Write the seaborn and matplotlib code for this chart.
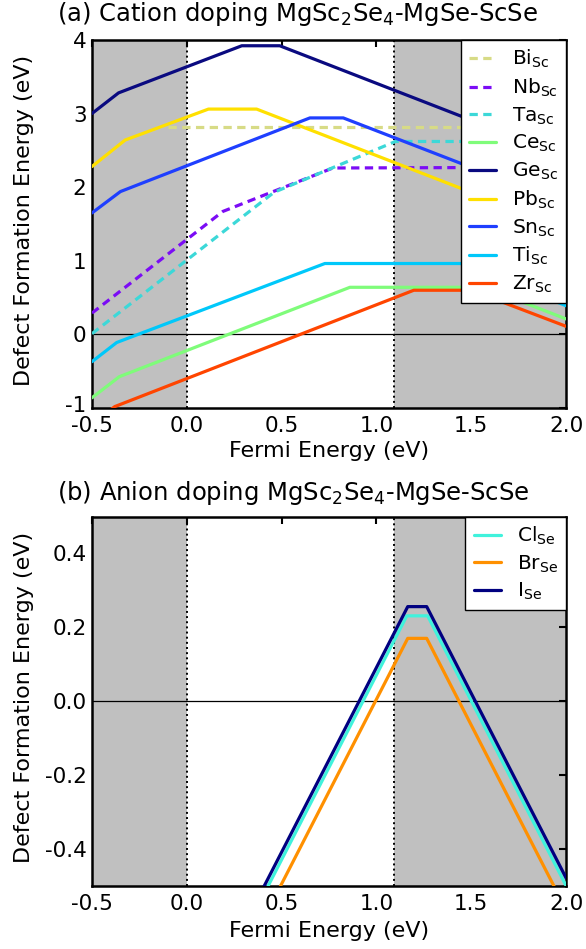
import matplotlib
matplotlib.use("Agg")
import matplotlib.pyplot as plt
import numpy as np
import pandas as pd
import seaborn as sns
from matplotlib.ticker import FixedLocator, FormatStrFormatter
from matplotlib.transforms import offset_copy

# (a) cation dopants: vertices of each formation-energy curve (Fermi level, eV)
bi_x = [-0.10, 2.0]
bi_y = [2.82, 2.82]
nb_x = [-0.5, 0.19, 0.77, 2.0]
nb_y = [0.29, 1.67, 2.26, 2.27]
ta_x = [-0.5, 0.46, 1.10, 2.0]
ta_y = [0.01, 1.93, 2.62, 2.62]
ce_x = [-0.5, -0.356, 0.86, 1.57, 2.0]
ce_y = [-0.86, -0.574, 0.64, 0.64, 0.21]
ge_x = [-0.5, -0.36, 0.29, 0.49, 2.0]
ge_y = [3.00, 3.28, 3.92, 3.92, 2.41]
pb_x = [-0.5, -0.325, 0.114, 0.368, 2.0]
pb_y = [2.28, 2.64, 3.06, 3.06, 1.43]
sn_x = [-0.5, -0.35, 0.649, 0.825, 2.0]
sn_y = [1.65, 1.94, 2.94, 2.94, 1.77]
ti_x = [-0.5, -0.37, 0.728, 1.444, 2.0]
ti_y = [-0.37, -0.11, 0.963, 0.963, 0.39]
zr_x = [-0.5, -0.38, 1.197, 1.50, 2.0]
zr_y = [-1.22, -0.98, 0.60, 0.60, 0.11]

# (b) anion dopants
cl_x = [-0.5, 1.16, 1.27, 2.0]
cl_y = [-1.43, 0.231, 0.231, -0.50]
br_x = [-0.5, 1.165, 1.265, 2.0]
br_y = [-1.495, 0.170, 0.170, -0.565]
i_x = [-0.5, 1.165, 1.265, 2.0]
i_y = [-1.409, 0.256, 0.256, -0.479]

vbm = 0.0
cbm = 1.09

sns.set_style("white")
plt.rcParams['font.family'] = ['DejaVu Sans']
plt.rcParams['mathtext.fontset'] = 'dejavusans'
plt.rcParams['axes.unicode_minus'] = False
plt.rcParams['text.color'] = 'black'
plt.rcParams['xtick.color'] = 'black'
plt.rcParams['ytick.color'] = 'black'
plt.rcParams['axes.labelcolor'] = 'black'

cation = [
    ('Bi', bi_x, bi_y, '#d7db86', True),
    ('Nb', nb_x, nb_y, '#7b0cf5', True),
    ('Ta', ta_x, ta_y, '#3cd8d8', True),
    ('Ce', ce_x, ce_y, '#7ffc7a', False),
    ('Ge', ge_x, ge_y, '#0a0a80', False),
    ('Pb', pb_x, pb_y, '#ffe000', False),
    ('Sn', sn_x, sn_y, '#1f3fff', False),
    ('Ti', ti_x, ti_y, '#00c8fa', False),
    ('Zr', zr_x, zr_y, '#ff4500', False),
]
anion = [
    ('Cl', cl_x, cl_y, '#40f2dc'),
    ('Br', br_x, br_y, '#ff9000'),
    ('I', i_x, i_y, '#000080'),
]

fig = plt.figure(figsize=(5.86, 9.49), dpi=100)
ax1 = fig.add_axes([0.157, 0.570, 0.809, 0.388])
ax2 = fig.add_axes([0.157, 0.0667, 0.809, 0.389])


def decorate(ax, ylim):
    ax.axvspan(-0.5, vbm, color='#c0c0c0', lw=0, zorder=0)
    ax.axvspan(cbm, 2.0, color='#c0c0c0', lw=0, zorder=0)
    ax.axvline(vbm, color='black', ls=':', lw=1.4, zorder=1)
    ax.axvline(cbm, color='black', ls=':', lw=1.4, zorder=1)
    ax.axhline(0, color='black', lw=0.9, zorder=1)
    ax.set_xlim(-0.5, 2.0)
    ax.set_ylim(*ylim)
    ax.xaxis.set_major_locator(FixedLocator([-0.5, 0.0, 0.5, 1.0, 1.5, 2.0]))
    ax.xaxis.set_major_formatter(FormatStrFormatter('%.1f'))
    ax.tick_params(direction='in', top=True, right=True, length=5, width=1.5,
                   labelsize=15.5, colors='black')
    ax.tick_params(axis='x', pad=6)
    ax.tick_params(axis='y', pad=4)
    for s in ax.spines.values():
        s.set_linewidth(1.8)
        s.set_color('black')
    ax.set_xlabel('')
    ax.set_ylabel('')


for name, xs, ys, col, dashed in cation:
    kw = dict(linestyle=(0, (2.6, 1.7))) if dashed else {}
    df = pd.DataFrame({'x': xs, 'y': ys})
    sns.lineplot(data=df, x='x', y='y', ax=ax1, color=col, lw=2.3, sort=False,
                 estimator=None, label=name + r'$_{\rm Sc}$', zorder=3, **kw)
decorate(ax1, (-1.0, 4.0))
ax1.yaxis.set_major_locator(FixedLocator([-1, 0, 1, 2, 3, 4]))
ax1.yaxis.set_major_formatter(FormatStrFormatter('%d'))

for name, xs, ys, col in anion:
    df = pd.DataFrame({'x': xs, 'y': ys})
    sns.lineplot(data=df, x='x', y='y', ax=ax2, color=col, lw=2.3, sort=False,
                 estimator=None, label=name + r'$_{\rm Se}$', zorder=3)
decorate(ax2, (-0.5, 0.5))
ax2.yaxis.set_major_locator(FixedLocator([-0.4, -0.2, 0.0, 0.2, 0.4]))
ax2.yaxis.set_major_formatter(FormatStrFormatter('%.1f'))

for ax in (ax1, ax2):
    leg = ax.legend(loc='upper right', fontsize=14.5, handlelength=1.35,
                    handletextpad=0.8, labelspacing=0.32, borderpad=0.4,
                    borderaxespad=0.0, fancybox=False, framealpha=1.0)
    leg.get_frame().set_edgecolor('black')
    leg.get_frame().set_linewidth(1.0)

# the lowest label of panel (a) sits a little above its tick, as in the original
fig.canvas.draw()
lab = ax1.yaxis.get_major_ticks()[0].label1
lab.set_transform(offset_copy(lab.get_transform(), fig=fig, x=0, y=4.5, units='dots'))

fig.text(0.507, 0.985, r'(a) Cation doping MgSc$_2$Se$_4$-MgSe-ScSe',
         ha='center', va='center', fontsize=17.5)
fig.text(0.500, 0.4805, r'(b) Anion doping MgSc$_2$Se$_4$-MgSe-ScSe',
         ha='center', va='center', fontsize=17.5)
fig.text(0.561, 0.5248, 'Fermi Energy (eV)', ha='center', va='center', fontsize=16)
fig.text(0.561, 0.019, 'Fermi Energy (eV)', ha='center', va='center', fontsize=16)
fig.text(0.041, 0.768, 'Defect Formation Energy (eV)', ha='center', va='center',
         rotation=90, fontsize=16)
fig.text(0.041, 0.2656, 'Defect Formation Energy (eV)', ha='center', va='center',
         rotation=90, fontsize=16)

fig.savefig('out.png', dpi=100)
